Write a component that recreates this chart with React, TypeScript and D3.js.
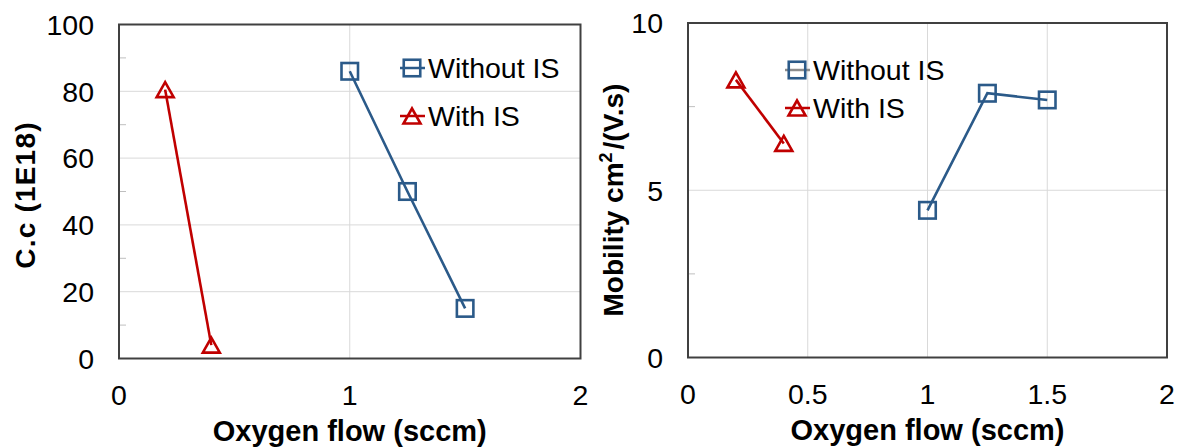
import React from "react";
import * as d3 from "d3";

// Oxygen flow (sccm) for each series
const flowWithoutIS = [1, 1.25, 1.5];
const flowWithIS = [0.2, 0.4];

// Carrier concentration (1E18)
const ccWithoutIS = [86, 50, 15];
const ccWithIS = [80.5, 4];

// Mobility cm²/(V.s)
const mobWithoutIS = [4.4, 7.9, 7.7];
const mobWithIS = [8.3, 6.4];

const seriesNames = ["Without IS", "With IS"];

const ccXTicks = [0, 1, 2];
const ccYTicks = [0, 20, 40, 60, 80, 100];
const ccYMinor = [10, 30, 50, 70, 90];

const mobXTicks = [0, 0.5, 1, 1.5, 2];
const mobYTicks = [0, 5, 10];
const mobYMinor = [2.5, 7.5];

const BLUE = "#2b5a89";
const RED = "#c00000";
const FONT = "'Liberation Sans', Arial, sans-serif";

type Frame = { left: number; right: number; top: number; bottom: number };

function Square({ x, y, color }: { x: number; y: number; color: string }) {
  const s = 16.5;
  return (
    <rect x={x - s / 2} y={y - s / 2} width={s} height={s} fill="none" stroke={color} strokeWidth={2.6} />
  );
}

function Triangle({ x, y, color }: { x: number; y: number; color: string }) {
  const hw = 8.5;
  const h = 15;
  const d = `M${x},${y - h / 2}L${x + hw},${y + h / 2}L${x - hw},${y + h / 2}Z`;
  return <path d={d} fill="none" stroke={color} strokeWidth={2.6} strokeLinejoin="miter" />;
}

function Panel({
  frame,
  xTicks,
  yTicks,
  yMinor,
  yMax,
  withoutY,
  withY,
  legendX,
  legendY,
  legendGap,
  legendLineColor,
  yTitle,
  yTitleX,
  yTitleY,
  yTitleSpacing,
}: {
  frame: Frame;
  xTicks: number[];
  yTicks: number[];
  yMinor: number[];
  yMax: number;
  withoutY: number[];
  withY: number[];
  legendX: number;
  legendY: number;
  legendGap: number;
  legendLineColor: string;
  yTitle: React.ReactNode;
  yTitleX: number;
  yTitleY: number;
  yTitleSpacing: number;
}) {
  const x = d3.scaleLinear().domain([0, 2]).range([frame.left, frame.right]);
  const y = d3.scaleLinear().domain([0, yMax]).range([frame.bottom, frame.top]);
  const line = d3
    .line<[number, number]>()
    .x((d) => x(d[0]))
    .y((d) => y(d[1]));
  const ptsWithout: [number, number][] = flowWithoutIS.map((f, i) => [f, withoutY[i]]);
  const ptsWith: [number, number][] = flowWithIS.map((f, i) => [f, withY[i]]);
  const midX = (frame.left + frame.right) / 2;

  return (
    <g>
      {/* gridlines */}
      {yTicks
        .filter((t) => t !== 0 && t !== yMax)
        .map((t) => (
          <line key={"gy" + t} x1={frame.left} x2={frame.right} y1={y(t)} y2={y(t)} stroke="#d9d9d9" strokeWidth={1} />
        ))}
      {xTicks
        .filter((t) => t !== 0 && t !== 2)
        .map((t) => (
          <line key={"gx" + t} x1={x(t)} x2={x(t)} y1={frame.top} y2={frame.bottom} stroke="#d9d9d9" strokeWidth={1} />
        ))}
      {/* minor ticks */}
      {yMinor.map((t) => (
        <line key={"m" + t} x1={frame.left} x2={frame.left + 7} y1={y(t)} y2={y(t)} stroke="#bfbfbf" strokeWidth={1} />
      ))}
      {/* frame */}
      <rect
        x={frame.left}
        y={frame.top}
        width={frame.right - frame.left}
        height={frame.bottom - frame.top}
        fill="none"
        stroke="#404040"
        strokeWidth={2}
      />
      {/* tick labels */}
      {yTicks.map((t) => (
        <text
          key={"ty" + t}
          x={frame.left - 25}
          y={y(t)}
          dy="0.36em"
          textAnchor="end"
          fontSize={28.5}
          fontFamily={FONT}
          fill="#000"
        >
          {String(t)}
        </text>
      ))}
      {xTicks.map((t) => (
        <text
          key={"tx" + t}
          x={x(t)}
          y={frame.bottom + 46}
          textAnchor="middle"
          fontSize={28.5}
          fontFamily={FONT}
          fill="#000"
        >
          {String(t)}
        </text>
      ))}
      {/* axis titles */}
      <text
        x={midX}
        y={frame.bottom + 82}
        textAnchor="middle"
        fontSize={29}
        fontWeight="bold"
        fontFamily={FONT}
        fill="#000"
      >
        Oxygen flow (sccm)
      </text>
      <text
        transform={`translate(${yTitleX},${yTitleY}) rotate(-90)`}
        textAnchor="middle"
        fontSize={28}
        fontWeight="bold"
        fontFamily={FONT}
        letterSpacing={yTitleSpacing}
        fill="#000"
      >
        {yTitle}
      </text>
      {/* series */}
      <path d={line(ptsWithout) || ""} fill="none" stroke={BLUE} strokeWidth={2.6} />
      <path d={line(ptsWith) || ""} fill="none" stroke={RED} strokeWidth={2.6} />
      {ptsWithout.map((p, i) => (
        <Square key={"s" + i} x={x(p[0])} y={y(p[1])} color={BLUE} />
      ))}
      {ptsWith.map((p, i) => (
        <Triangle key={"t" + i} x={x(p[0])} y={y(p[1])} color={RED} />
      ))}
      {/* legend */}
      <g>
        <line x1={legendX - 12} x2={legendX + 13} y1={legendY} y2={legendY} stroke={legendLineColor} strokeWidth={2.5} />
        <Square x={legendX} y={legendY} color={BLUE} />
        <text x={legendX + 16} y={legendY} dy="0.36em" fontSize={28.5} fontFamily={FONT} fill="#000">
          {seriesNames[0]}
        </text>
        <line
          x1={legendX - 12}
          x2={legendX + 13}
          y1={legendY + legendGap}
          y2={legendY + legendGap}
          stroke={RED}
          strokeWidth={2.5}
        />
        <Triangle x={legendX} y={legendY + legendGap} color={RED} />
        <text x={legendX + 16} y={legendY + legendGap} dy="0.36em" fontSize={28.5} fontFamily={FONT} fill="#000">
          {seriesNames[1]}
        </text>
      </g>
    </g>
  );
}

export default function App() {
  return (
    <svg width={1180} height={448} style={{ display: "block", position: "absolute", left: 0, top: 0 }}>
      <rect width={1180} height={448} fill="#fff" />
      <Panel
        frame={{ left: 119, right: 580.5, top: 24.5, bottom: 358.5 }}
        xTicks={ccXTicks}
        yTicks={ccYTicks}
        yMinor={ccYMinor}
        yMax={100}
        withoutY={ccWithoutIS}
        withY={ccWithIS}
        legendX={412}
        legendY={68}
        legendGap={48}
        legendLineColor={BLUE}
        yTitle="C.c (1E18)"
        yTitleX={35}
        yTitleY={195}
        yTitleSpacing={1.2}
      />
      <Panel
        frame={{ left: 688, right: 1167, top: 23, bottom: 357.5 }}
        xTicks={mobXTicks}
        yTicks={mobYTicks}
        yMinor={mobYMinor}
        yMax={10}
        withoutY={mobWithoutIS}
        withY={mobWithIS}
        legendX={797}
        legendY={70}
        legendGap={38}
        legendLineColor="#8c8c8c"
        yTitle={
          <>
            Mobility cm
            <tspan fontSize={18} dy={-11}>
              2
            </tspan>
            <tspan dx={3} dy={11}>
              /(V.s)
            </tspan>
          </>
        }
        yTitleX={623}
        yTitleY={200}
        yTitleSpacing={0}
      />
    </svg>
  );
}
